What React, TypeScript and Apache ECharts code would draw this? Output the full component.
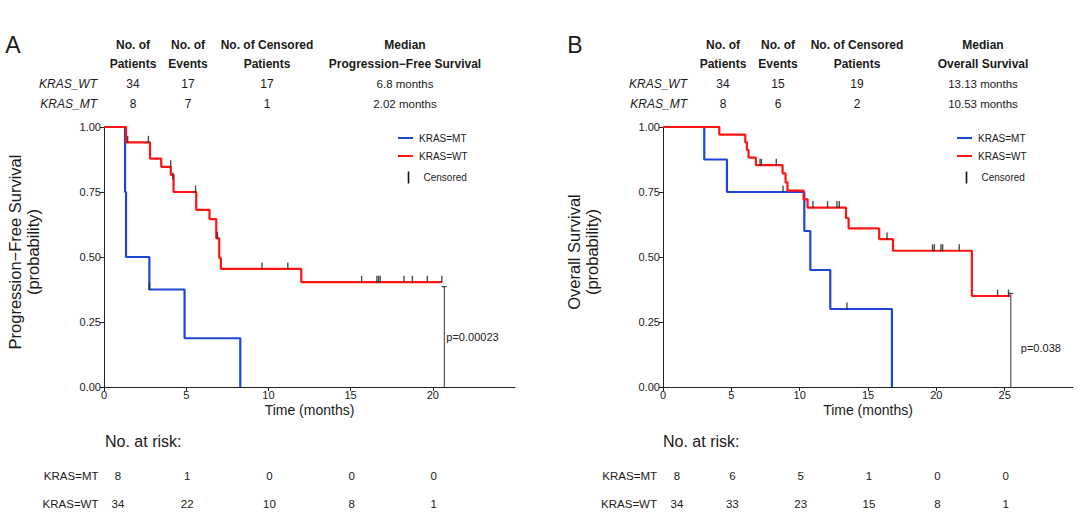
import React, { useEffect, useRef } from "react";
import * as echarts from "echarts";

const FONT = "'Liberation Sans', Arial, Helvetica, sans-serif";
const BLUE = "#1f44d8";
const RED = "#ff1414";
const INK = "#1a1a1a";

// ---------- Panel A : Progression-free survival ----------
const pfsMtTimes = [0, 1.28, 1.34, 2.76, 4.9, 8.29];
const pfsMtSurv = [1, 0.75, 0.5, 0.375, 0.1875, 0];
const pfsMtCensTimes = [2.76];
const pfsMtCensSurv = [0.375];

const pfsWtTimes = [0, 1.34, 2.8, 3.48, 4.06, 4.23, 5.61, 6.42, 6.83, 7.01, 7.11, 12.0, 20.55];
const pfsWtSurv = [1, 0.941, 0.878, 0.847, 0.816, 0.75, 0.681, 0.646, 0.572, 0.497, 0.454, 0.403, 0.403];
const pfsWtCensTimes = [1.44, 2.7, 4.06, 4.19, 5.57, 6.9, 9.61, 11.18, 15.67, 16.6, 16.7, 16.8, 18.25, 18.76, 19.67, 20.55];
const pfsWtCensSurv = [0.941, 0.941, 0.847, 0.8, 0.75, 0.572, 0.454, 0.454, 0.403, 0.403, 0.403, 0.403, 0.403, 0.403, 0.403, 0.403];

const pfsPLine = { t: 20.7, s: 0.386, label: "p=0.00023" };

// ---------- Panel B : Overall survival ----------
const osMtTimes = [0, 3.02, 4.68, 10.34, 10.78, 12.24, 16.75];
const osMtSurv = [1, 0.875, 0.75, 0.6, 0.45, 0.3, 0];
const osMtCensTimes = [8.78, 13.46];
const osMtCensSurv = [0.75, 0.3];

const osWtTimes = [0, 4.12, 6.02, 6.14, 6.26, 6.8, 8.75, 8.97, 9.11, 10.29, 10.58, 13.39, 13.58, 15.82, 16.83, 22.6, 25.4];
const osWtSurv = [1, 0.971, 0.941, 0.912, 0.882, 0.853, 0.822, 0.787, 0.755, 0.722, 0.69, 0.649, 0.61, 0.569, 0.524, 0.35, 0.35];
const osWtCensTimes = [7.1, 7.2, 8.29, 10.97, 12.04, 12.73, 12.9, 16.39, 19.72, 19.85, 20.34, 20.46, 21.68, 24.48, 25.28];
const osWtCensSurv = [0.853, 0.853, 0.853, 0.69, 0.69, 0.69, 0.69, 0.569, 0.524, 0.524, 0.524, 0.524, 0.524, 0.35, 0.35];

const osPLine = { t: 25.45, s: 0.36, label: "p=0.038" };

// ---------- Header tables ----------
const headerCols = ["No. of\nPatients", "No. of\nEvents", "No. of Censored\nPatients"];
const pfsMedianHeader = "Median\nProgression\u2212Free Survival";
const osMedianHeader = "Median\nOverall Survival";
const groupLabels = ["KRAS_WT", "KRAS_MT"];
const pfsPatients = [34, 8];
const pfsEvents = [17, 7];
const pfsCensored = [17, 1];
const pfsMedian = ["6.8 months", "2.02 months"];
const osPatients = [34, 8];
const osEvents = [15, 6];
const osCensored = [19, 2];
const osMedian = ["13.13 months", "10.53 months"];

// ---------- Risk tables ----------
const riskLabels = ["KRAS=MT", "KRAS=WT"];
const pfsTickLabels = [0, 5, 10, 15, 20];
const osTickLabels = [0, 5, 10, 15, 20, 25];
const pfsRiskTimes = [0, 5, 10, 15, 20];
const pfsRiskMt = [8, 1, 0, 0, 0];
const pfsRiskWt = [34, 22, 10, 8, 1];
const osRiskTimes = [0, 5, 10, 15, 20, 25];
const osRiskMt = [8, 6, 5, 1, 0, 0];
const osRiskWt = [34, 33, 23, 15, 8, 1];

const pairs = (ts: number[], ss: number[]) => ts.map((t, i) => [t, ss[i]]);

function txt(text: string, x: number, y: number, opts: any = {}) {
  const align = opts.align || "center";
  const valign = opts.valign || "middle";
  return {
    type: "text",
    x,
    y,
    rotation: opts.rotation || 0,
    silent: true,
    style: {
      text,
      x: 0,
      y: 0,
      fill: INK,
      fontFamily: FONT,
      fontSize: opts.size || 12,
      fontWeight: opts.weight || "normal",
      fontStyle: opts.style || "normal",
      lineHeight: opts.lineHeight,
      textAlign: align,
      textVerticalAlign: valign,
      align,
      verticalAlign: valign,
    },
  };
}

function hline(x1: number, y1: number, x2: number, y2: number, color: string, width: number) {
  return {
    type: "line",
    silent: true,
    shape: { x1, y1, x2, y2 },
    style: { stroke: color, lineWidth: width },
  };
}

export default function App() {
  const ref = useRef<HTMLDivElement>(null);

  useEffect(() => {
    const chart = echarts.init(ref.current!, null, { renderer: "svg" });

    const xAxisBase = (max: number, labels: number[], idx: number) => ({
      type: "value",
      gridIndex: idx,
      min: 0,
      max,
      interval: 5,
      name: "Time (months)",
      nameLocation: "middle",
      nameGap: 16,
      nameTextStyle: { fontFamily: FONT, fontSize: 14, color: INK },
      axisLine: { onZero: false, lineStyle: { color: "#222", width: 1 } },
      axisTick: { show: true, length: 4, inside: false, lineStyle: { color: "#222" }, customValues: labels },
      axisLabel: {
        fontFamily: FONT,
        fontSize: 11,
        color: INK,
        margin: 2,
        customValues: labels,
      },
      splitLine: { show: false },
    });

    const yAxisBase = (idx: number) => ({
      type: "value",
      gridIndex: idx,
      min: 0,
      max: 1,
      interval: 0.25,
      axisLine: { show: true, lineStyle: { color: "#222", width: 1 } },
      axisTick: { show: true, length: 4, lineStyle: { color: "#222" } },
      axisLabel: {
        fontFamily: FONT,
        fontSize: 11,
        color: INK,
        margin: 3,
        formatter: (v: number) => v.toFixed(2),
      },
      splitLine: { show: false },
    });

    const curve = (ts: number[], ss: number[], color: string, idx: number, z: number) => ({
      type: "line",
      xAxisIndex: idx,
      yAxisIndex: idx,
      step: "end",
      data: pairs(ts, ss),
      symbol: "none",
      silent: true,
      z,
      lineStyle: { color, width: 2.2 },
    });

    const cens = (ts: number[], ss: number[], idx: number) => ({
      type: "scatter",
      xAxisIndex: idx,
      yAxisIndex: idx,
      data: pairs(ts, ss),
      symbol: "rect",
      symbolSize: [1.4, 7],
      symbolOffset: [0, -3],
      silent: true,
      z: 6,
      itemStyle: { color: "#222" },
    });

    const pline = (p: { t: number; s: number }, idx: number, cap: number) => ({
      type: "line",
      xAxisIndex: idx,
      yAxisIndex: idx,
      data: [
        [p.t, 0],
        [p.t, p.s],
        [p.t - cap, p.s],
        [p.t + cap, p.s],
      ],
      symbol: "none",
      silent: true,
      z: 4,
      lineStyle: { color: "#333", width: 1 },
    });

    chart.setOption({
      animation: false,
      backgroundColor: "#ffffff",
      grid: [
        { left: 104, top: 127, width: 411, height: 260 },
        { left: 663, top: 127, width: 410, height: 260 },
      ],
      xAxis: [xAxisBase(25, pfsTickLabels, 0), xAxisBase(30, osTickLabels, 1)],
      yAxis: [yAxisBase(0), yAxisBase(1)],
      series: [
        curve(pfsMtTimes, pfsMtSurv, BLUE, 0, 2),
        curve(pfsWtTimes, pfsWtSurv, RED, 0, 3),
        cens(pfsMtCensTimes, pfsMtCensSurv, 0),
        cens(pfsWtCensTimes, pfsWtCensSurv, 0),
        pline(pfsPLine, 0, 0.15),
        curve(osMtTimes, osMtSurv, BLUE, 1, 2),
        curve(osWtTimes, osWtSurv, RED, 1, 3),
        cens(osMtCensTimes, osMtCensSurv, 1),
        cens(osWtCensTimes, osWtCensSurv, 1),
        pline(osPLine, 1, 0.18),
      ],
    });

    const px = (t: number, idx: number) => chart.convertToPixel({ gridIndex: idx }, [t, 0])[0];

    const g: any[] = [];

    // Panel letters
    g.push(txt("A", 13, 45, { size: 23 }));
    g.push(txt("B", 575, 45, { size: 23 }));

    // Header tables
    const header = (
      colX: number[],
      labelRight: number,
      medianHeader: string,
      patients: number[],
      events: number[],
      censored: number[],
      median: string[]
    ) => {
      const heads = [...headerCols, medianHeader];
      heads.forEach((h, i) =>
        g.push(txt(h, colX[i], 54.5, { size: 12, weight: "bold", lineHeight: 18.5 }))
      );
      const rowsY = [84, 104];
      groupLabels.forEach((lab, r) => {
        g.push(txt(lab, labelRight, rowsY[r], { size: 12, style: "italic", align: "right" }));
        g.push(txt(String(patients[r]), colX[0], rowsY[r], { size: 12 }));
        g.push(txt(String(events[r]), colX[1], rowsY[r], { size: 12 }));
        g.push(txt(String(censored[r]), colX[2], rowsY[r], { size: 12 }));
        g.push(txt(median[r], colX[3], rowsY[r], { size: 11.5 }));
      });
    };
    header([133, 188, 267, 405], 97, pfsMedianHeader, pfsPatients, pfsEvents, pfsCensored, pfsMedian);
    header([723, 778, 857, 983], 687, osMedianHeader, osPatients, osEvents, osCensored, osMedian);

    // Y-axis titles
    g.push(
      txt("Progression\u2212Free Survival\n(probability)", 24, 252, {
        size: 16.5,
        rotation: Math.PI / 2,
        lineHeight: 18,
      })
    );
    g.push(
      txt("Overall Survival\n(probability)", 583, 252, {
        size: 16.5,
        rotation: Math.PI / 2,
        lineHeight: 18,
      })
    );

    // Legends
    const legend = (lx: number, tx: number, cx: number, ctx: number) => {
      g.push(hline(lx, 138, lx + 15, 138, BLUE, 2));
      g.push(txt("KRAS=MT", tx, 138, { size: 10, align: "left" }));
      g.push(hline(lx, 156, lx + 15, 156, RED, 2));
      g.push(txt("KRAS=WT", tx, 156, { size: 10, align: "left" }));
      g.push(hline(cx, 171.5, cx, 183.5, "#111", 1.6));
      g.push(txt("Censored", ctx, 177, { size: 10, align: "left" }));
    };
    legend(398, 419, 408.5, 423.5);
    legend(957, 978, 966.5, 981.5);

    // p-values
    g.push(txt(pfsPLine.label, px(pfsPLine.t, 0) + 2, 337, { size: 11, align: "left" }));
    g.push(txt(osPLine.label, px(osPLine.t, 1) + 10, 348, { size: 11, align: "left" }));

    // Risk tables
    const risk = (
      idx: number,
      titleX: number,
      labelRight: number,
      times: number[],
      mt: number[],
      wt: number[]
    ) => {
      g.push(txt("No. at risk:", titleX, 441, { size: 16, align: "left" }));
      const rowsY = [476, 504];
      [mt, wt].forEach((vals, r) => {
        g.push(txt(riskLabels[r], labelRight, rowsY[r], { size: 11.5, align: "right" }));
        vals.forEach((v, i) => {
          const x = px(times[i], idx) + (times[i] === 0 ? 14 : 1);
          g.push(txt(String(v), x, rowsY[r], { size: 11.5 }));
        });
      });
    };
    risk(0, 105, 98.5, pfsRiskTimes, pfsRiskMt, pfsRiskWt);
    risk(1, 663, 657, osRiskTimes, osRiskMt, osRiskWt);

    chart.setOption({ graphic: { elements: g } });

    return () => chart.dispose();
  }, []);

  return (
    <div
      ref={ref}
      style={{ position: "absolute", left: 0, top: 0, width: 1080, height: 530, background: "#fff" }}
    />
  );
}
